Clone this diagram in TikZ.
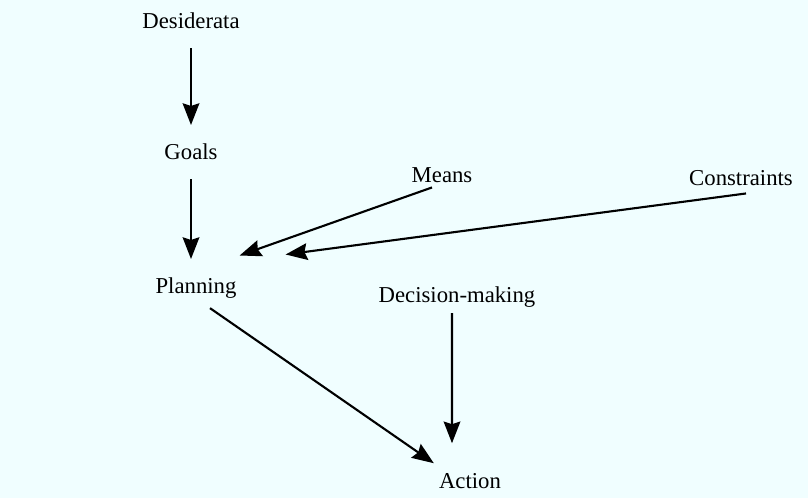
\documentclass[tikz,border=0pt]{standalone}
\usepackage{fontspec}
\setmainfont{Liberation Serif}
\usetikzlibrary{arrows.meta}
\definecolor{paper}{RGB}{240,254,255}
\tikzset{lbl/.style = {inner sep=0pt, anchor=base, font=\fontsize{19.4}{23}\selectfont}}
\tikzset{arr/.style = {line width=1.8pt, -{Stealth[length=6.5mm, width=5mm, inset=0.8mm]}}}

\begin{document}
\begin{tikzpicture}[x=0.03cm, y=-0.03cm]
		\fill[paper] (0,0) rectangle (808,498);
		% Nodes
		\node[lbl]   (des) at (191, 28) {Desiderata};
		\node[lbl] (goals) at (191,159) {Goals};
		\node[lbl] (means) at (442,182) {Means};
		\node[lbl]  (cons) at (741,185) {Constraints};
		\node[lbl]  (plan) at (196,293) {Planning};
		\node[lbl]   (dec) at (457,302) {Decision-making};
		\node[lbl]   (act) at (470,488) {Action};
		% Arrows
		\foreach \from/\to in {des/goals, goals/plan}
			\draw[arr] ([yshift=-0.6cm]\from.south) -- ([yshift=0.54cm]\from.south |- \to.north);
		\draw[arr] ([xshift=-0.3cm, yshift=-0.15cm]means.south) -- ([xshift=0.09cm, yshift=0.645cm]plan.north east);
		\draw[arr] ([xshift=0.15cm, yshift=-0.24cm]cons.south) -- ([xshift=1.47cm, yshift=0.675cm]plan.north east);
		\draw[arr] ([xshift=0.42cm, yshift=-0.3cm]plan.south) -- ([xshift=-0.15cm, yshift=0.285cm]act.north west);
		\draw[arr] ([xshift=-0.15cm, yshift=-0.18cm]dec.south) -- ([xshift=-0.54cm, yshift=0.885cm]act.north);
\end{tikzpicture}
\end{document}
